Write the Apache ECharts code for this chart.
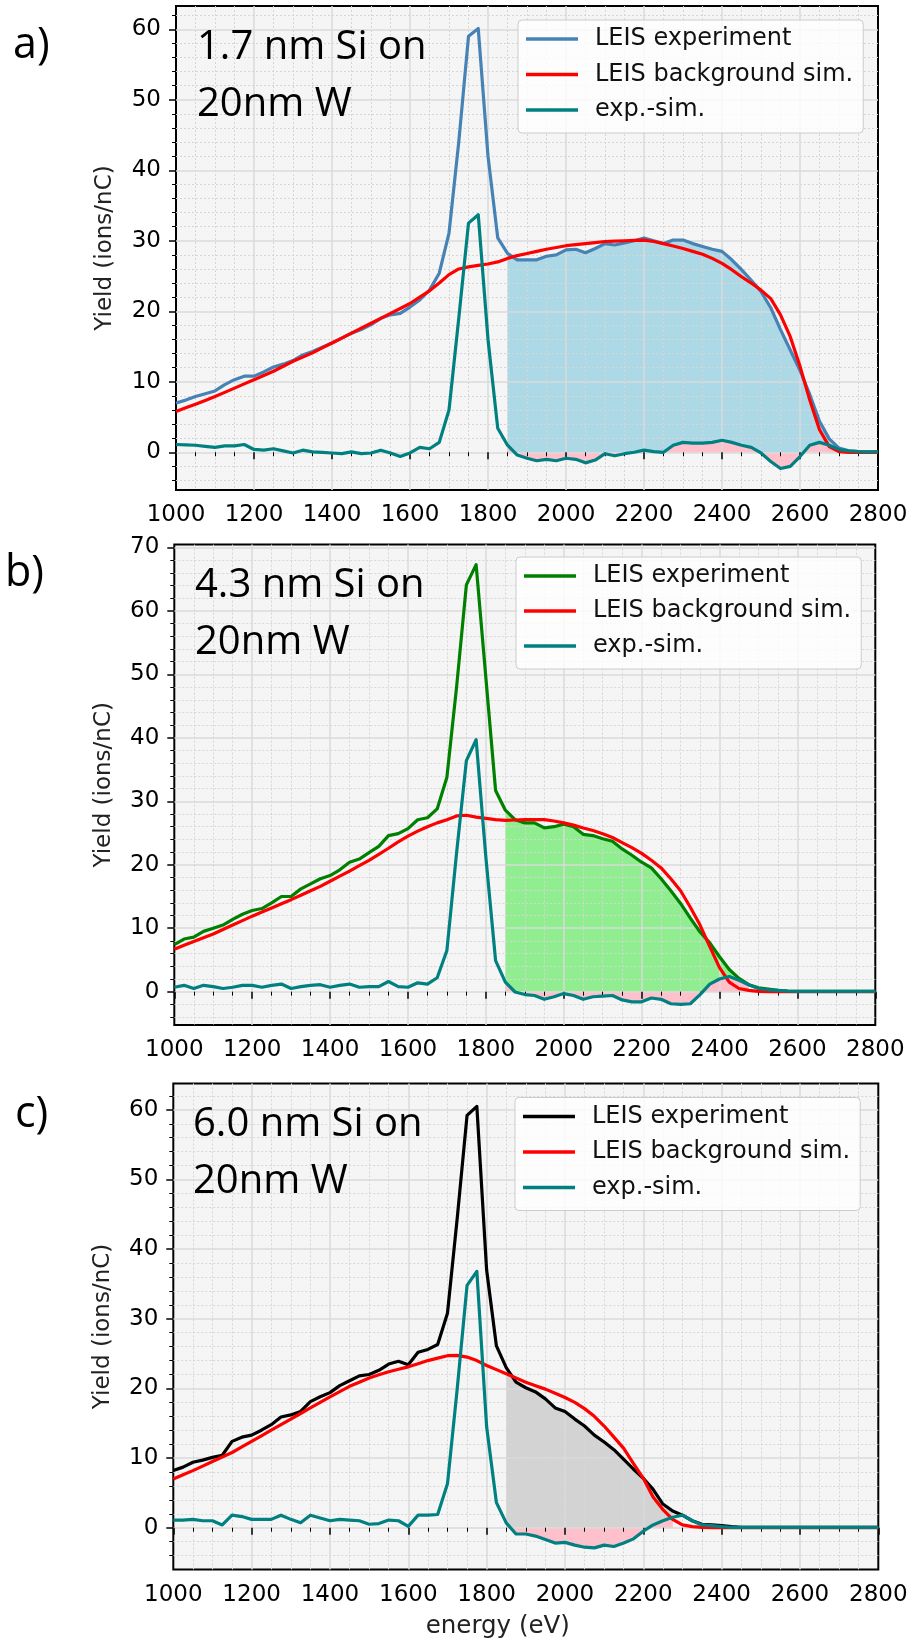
<!DOCTYPE html>
<html>
<head>
<meta charset="utf-8">
<title>LEIS spectra: Si on W</title>
<script src="https://cdn.jsdelivr.net/npm/echarts@6/dist/echarts.min.js"></script>
<style>
  html, body { margin: 0; padding: 0; background: #ffffff; }
  #wrap { position: relative; width: 912px; height: 1643px; }
  .panel { position: absolute; left: 0; width: 912px; }
</style>
</head>
<body>
<div id="wrap">
  <div id="pa" class="panel" style="top:0px;height:530px"></div>
  <div id="pb" class="panel" style="top:530px;height:530px"></div>
  <div id="pc" class="panel" style="top:1060px;height:583px"></div>
</div>
<script>
// Energy grid of the measured spectra (eV)
const energy = [
  1000, 1025, 1050, 1075, 1100, 1125, 1150, 1175,
  1200, 1225, 1250, 1275, 1300, 1325, 1350, 1375,
  1400, 1425, 1450, 1475, 1500, 1525, 1550, 1575,
  1600, 1625, 1650, 1675, 1700, 1725, 1750, 1775,
  1800, 1825, 1850, 1875, 1900, 1925, 1950, 1975,
  2000, 2025, 2050, 2075, 2100, 2125, 2150, 2175,
  2200, 2225, 2250, 2275, 2300, 2325, 2350, 2375,
  2400, 2425, 2450, 2475, 2500, 2525, 2550, 2575,
  2600, 2625, 2650, 2675, 2700, 2725, 2750, 2775,
  2800
];

// a) 1.7 nm Si on 20 nm W
const expA = [
  7.0, 7.4, 7.9, 8.3, 8.7, 9.6, 10.3, 10.8,
  10.8, 11.4, 12.1, 12.5, 13.0, 13.8, 14.3, 14.9,
  15.5, 16.2, 16.9, 17.4, 18.1, 19.0, 19.5, 19.7,
  20.6, 21.6, 23.0, 25.4, 31.1, 44.0, 59.0, 60.1,
  42.0, 30.4, 28.2, 27.3, 27.3, 27.3, 27.8, 28.0,
  28.7, 28.8, 28.3, 28.9, 29.6, 29.4, 29.7, 30.0,
  30.4, 30.0, 29.6, 30.1, 30.1, 29.6, 29.2, 28.8,
  28.5, 27.3, 25.9, 24.4, 22.8, 20.5, 17.4, 14.5,
  11.6, 8.2, 4.4, 1.9, 0.6, 0.2, 0.1, 0.05,
  0.05
];
const simA = [
  5.8, 6.3, 6.8, 7.35, 7.9, 8.5, 9.1, 9.7,
  10.3, 10.9, 11.5, 12.2, 12.9, 13.5, 14.1, 14.8,
  15.5, 16.2, 16.9, 17.6, 18.3, 19.0, 19.7, 20.4,
  21.1, 22.0, 22.9, 24.0, 25.2, 26.0, 26.3, 26.5,
  26.7, 27.0, 27.5, 27.9, 28.2, 28.5, 28.8, 29.05,
  29.3, 29.45, 29.6, 29.75, 29.9, 29.95, 30.0, 30.05,
  30.1, 29.9, 29.6, 29.25, 28.9, 28.5, 28.1, 27.5,
  26.8, 25.9, 24.9, 24.0, 23.0, 21.8, 19.5, 16.4,
  12.2, 7.4, 3.2, 0.8, 0.1, 0, 0, 0,
  0
];
const diffA = [
  1.1, 1.05, 1.0, 0.85, 0.7, 0.9, 0.9, 1.1,
  0.4, 0.3, 0.5, 0.2, -0.1, 0.3, 0.05, 0.0,
  -0.1, -0.2, 0.05, -0.2, -0.1, 0.3, -0.1, -0.6,
  -0.1, 0.7, 0.5, 1.4, 6.0, 19.0, 32.5, 33.7,
  16.0, 3.4, 1.0, -0.4, -0.85, -1.2, -1.0, -1.2,
  -0.85, -1.0, -1.5, -1.1, -0.2, -0.5, -0.2, 0.0,
  0.3, 0.1, 0.0, 1.0, 1.4, 1.3, 1.3, 1.4,
  1.7, 1.4, 1.0, 0.7, -0.1, -1.3, -2.3, -2.0,
  -0.6, 1.0, 1.4, 1.0, 0.4, 0.2, 0.1, 0.05,
  0.05
];

// b) 4.3 nm Si on 20 nm W
const expB = [
  7.4, 8.3, 8.6, 9.5, 10.0, 10.5, 11.4, 12.2,
  12.8, 13.1, 14.0, 15.0, 15.0, 16.2, 17.0, 17.8,
  18.3, 19.2, 20.4, 20.9, 21.9, 22.9, 24.6, 24.9,
  25.7, 27.1, 27.4, 28.8, 33.8, 48.1, 64.1, 67.3,
  49.5, 31.7, 28.6, 27.1, 26.6, 26.6, 25.8, 26.0,
  26.4, 26.0, 24.8, 24.6, 24.1, 23.7, 22.5, 21.5,
  20.4, 19.5, 17.8, 15.9, 13.9, 11.6, 9.4, 7.7,
  5.5, 3.5, 2.1, 1.1, 0.6, 0.4, 0.2, 0.1,
  0.05, 0.05, 0.05, 0.05, 0.05, 0.05, 0.05, 0.05,
  0.05
];
const simB = [
  6.7, 7.3, 7.9, 8.5, 9.1, 9.8, 10.5, 11.2,
  11.9, 12.55, 13.2, 13.85, 14.5, 15.2, 15.9, 16.6,
  17.4, 18.2, 19.0, 19.85, 20.7, 21.65, 22.6, 23.6,
  24.5, 25.3, 26.0, 26.6, 27.1, 27.7, 27.8, 27.5,
  27.3, 27.1, 27.0, 27.05, 27.1, 27.1, 27.1, 26.9,
  26.6, 26.25, 25.8, 25.4, 24.9, 24.3, 23.5, 22.7,
  21.8, 20.7, 19.5, 17.8, 15.9, 13.3, 10.5, 7.1,
  3.8, 1.5, 0.5, 0.2, 0.05, 0, 0, 0,
  0, 0, 0, 0, 0, 0, 0, 0,
  0
];
const diffB = [
  0.7, 1.0, 0.5, 1.0, 0.8, 0.5, 0.7, 1.0,
  1.0, 0.7, 1.0, 1.2, 0.5, 0.8, 1.0, 1.1,
  0.7, 1.0, 1.2, 0.7, 0.8, 0.8, 1.6, 0.8,
  0.7, 1.4, 1.2, 2.2, 6.5, 22.0, 36.4, 39.7,
  21.2, 4.9, 1.5, -0.05, -0.45, -0.6, -1.2, -0.8,
  -0.3, -0.6, -1.2, -0.8, -0.7, -0.6, -1.3, -1.6,
  -1.6, -1.0, -1.2, -1.9, -2.0, -1.9, -0.45, 1.2,
  2.0, 2.4, 1.8, 1.1, 0.5, 0.3, 0.2, 0.1,
  0.05, 0.05, 0.05, 0.05, 0.05, 0.05, 0.05, 0.05,
  0.05
];

// c) 6.0 nm Si on 20 nm W
const expC = [
  8.2, 8.7, 9.4, 9.7, 10.1, 10.4, 12.4, 13.0,
  13.3, 14.0, 14.8, 15.9, 16.2, 16.7, 18.1, 18.8,
  19.4, 20.4, 21.1, 21.8, 22.0, 22.6, 23.5, 23.9,
  23.4, 25.2, 25.6, 26.3, 30.8, 44.5, 59.2, 60.5,
  37.0, 26.1, 23.0, 20.9, 20.1, 19.5, 18.5, 17.2,
  16.7, 15.6, 14.6, 13.3, 12.3, 11.2, 9.8, 8.4,
  7.1, 5.5, 3.4, 2.4, 1.8, 1.0, 0.5, 0.4,
  0.3, 0.15, 0.05, 0.05, 0.05, 0.05, 0.05, 0.05,
  0.05, 0.05, 0.05, 0.05, 0.05, 0.05, 0.05, 0.05,
  0.05
];
const simC = [
  7.0, 7.6, 8.2, 8.85, 9.5, 10.15, 10.8, 11.6,
  12.4, 13.2, 14.0, 14.8, 15.6, 16.4, 17.2, 18.0,
  18.8, 19.55, 20.3, 20.9, 21.5, 21.95, 22.4, 22.75,
  23.1, 23.55, 24.0, 24.35, 24.7, 24.75, 24.5, 24.0,
  23.3, 22.7, 22.1, 21.5, 20.9, 20.4, 19.9, 19.3,
  18.7, 18.0, 17.1, 16.0, 14.6, 13.0, 11.4, 9.2,
  7.1, 4.4, 2.6, 1.2, 0.4, 0.15, 0.05, 0,
  0, 0, 0, 0, 0, 0, 0, 0,
  0, 0, 0, 0, 0, 0, 0, 0,
  0
];
const diffC = [
  1.1, 1.1, 1.2, 1.0, 1.0, 0.4, 1.8, 1.6,
  1.2, 1.2, 1.2, 1.8, 1.2, 0.7, 1.8, 1.4,
  1.0, 1.2, 1.1, 1.0, 0.5, 0.6, 1.1, 1.0,
  0.2, 1.8, 1.8, 1.9, 6.3, 20.0, 34.8, 36.8,
  14.5, 3.6, 0.7, -0.9, -0.9, -1.2, -1.7, -2.2,
  -2.1, -2.5, -2.8, -2.9, -2.5, -2.7, -2.2, -1.6,
  -0.5, 0.4, 1.0, 1.5, 1.8, 1.0, 0.4, 0.3,
  0.15, 0.05, 0.05, 0.05, 0.05, 0.05, 0.05, 0.05,
  0.05, 0.05, 0.05, 0.05, 0.05, 0.05, 0.05, 0.05,
  0.05
];

// Integration windows (eV) of the shaded areas
const fillRangeA = [1850, 2700];
const fillRangeB = [1850, 2475];
const fillRangeC = [1850, 2275];

// Y tick values
const yMajorA = [0, 10, 20, 30, 40, 50, 60];
const yMinorA = [-4, -2, 2, 4, 6, 8, 12, 14, 16, 18, 22, 24, 26, 28, 32, 34, 36, 38, 42, 44, 46, 48, 52, 54, 56, 58, 62];
const yMajorB = [0, 10, 20, 30, 40, 50, 60, 70];
const yMinorB = [-4, -2, 2, 4, 6, 8, 12, 14, 16, 18, 22, 24, 26, 28, 32, 34, 36, 38, 42, 44, 46, 48, 52, 54, 56, 58, 62, 64, 66, 68];
const yMajorC = [0, 10, 20, 30, 40, 50, 60];
const yMinorC = [-4, -2, 2, 4, 6, 8, 12, 14, 16, 18, 22, 24, 26, 28, 32, 34, 36, 38, 42, 44, 46, 48, 52, 54, 56, 58, 62];

const legendNames = ['LEIS experiment', 'LEIS background sim.', 'exp.-sim.'];

function pairs(values, lo, hi) {
  return energy
    .map((e, i) => [e, values[i]])
    .filter(p => p[0] >= lo && p[0] <= hi);
}

const TICK_FONT = { fontFamily: 'DejaVu Sans', fontSize: 23, color: '#000000' };
const plainNumber = v => String(v);

function buildPanel(el, cfg) {
  const chart = echarts.init(el, null, { renderer: 'canvas' });

  const lineSeries = (name, vals, color) => ({
    type: 'line', name: name, data: pairs(vals, 1000, 2800),
    color: color, symbol: 'none', showSymbol: false, silent: true, z: 4,
    lineStyle: { color: color, width: 3.2, join: 'round', cap: 'butt' }
  });
  const areaSeries = (vals, range, color, z) => ({
    type: 'line', data: pairs(vals, range[0], range[1]),
    symbol: 'none', showSymbol: false, silent: true, z: z,
    lineStyle: { width: 0, opacity: 0 },
    areaStyle: { color: color, opacity: 1, origin: 'auto' }
  });

  const g = cfg.grid;
  chart.setOption({
    animation: false,
    grid: [{
      left: g.left, top: g.top, width: g.width, height: g.height,
      show: true, backgroundColor: '#f5f5f5', borderColor: '#000000', borderWidth: 2,
      containLabel: false, outerBoundsMode: 'none', z: 0
    }],
    xAxis: [{
      type: 'value', gridIndex: 0, min: 1000, max: 2800, interval: 200, z: 3,
      axisLine: { show: false },
      axisTick: { show: true, length: 7, lineStyle: { color: '#000000', width: 1.5 } },
      minorTick: { show: true, splitNumber: 4, length: 4, lineStyle: { color: '#000000', width: 1 } },
      axisLabel: Object.assign({ margin: 14, showMinLabel: true, showMaxLabel: true, formatter: plainNumber }, TICK_FONT),
      splitLine: { show: true, showMinLine: false, showMaxLine: false, lineStyle: { color: '#dadada', width: 1.5 } },
      minorSplitLine: { show: true, lineStyle: { color: '#d6d6d6', width: 1, type: [2, 2] } },
      name: cfg.xName || '', nameLocation: 'middle', nameGap: 45,
      nameTextStyle: { fontFamily: 'DejaVu Sans', fontSize: 24.5, color: '#222222', padding: [0, 56, 0, 0] }
    }],
    yAxis: [{
      type: 'value', gridIndex: 0, min: cfg.yMin, max: cfg.yMax, position: 'left', offset: 0, z: 3,
      axisLine: { show: false },
      axisTick: { show: true, customValues: cfg.yMajor, length: 7, lineStyle: { color: '#000000', width: 1.5 } },
      axisLabel: Object.assign({ customValues: cfg.yMajor, margin: 15, formatter: plainNumber }, TICK_FONT),
      splitLine: { show: true, lineStyle: { color: '#dadada', width: 1.5 } },
      name: 'Yield (ions/nC)', nameLocation: 'middle', nameGap: 59,
      nameTextStyle: { fontFamily: 'DejaVu Sans', fontSize: 23, color: '#222222' }
    }, {
      type: 'value', gridIndex: 0, min: cfg.yMin, max: cfg.yMax, position: 'left', offset: 0, z: 3,
      axisLine: { show: false },
      axisTick: { show: true, customValues: cfg.yMinor, length: 4, lineStyle: { color: '#000000', width: 1 } },
      axisLabel: { show: false, customValues: cfg.yMinor },
      splitLine: { show: true, lineStyle: { color: '#d6d6d6', width: 1, type: [2, 2] } }
    }],
    legend: {
      orient: 'vertical', left: cfg.legend.left, top: cfg.legend.top, z: 10,
      data: legendNames, selectedMode: false,
      icon: 'rect', itemWidth: 52, itemHeight: 3.5, itemGap: cfg.legend.gap,
      padding: cfg.legend.padding,
      backgroundColor: 'rgba(255,255,255,0.8)', borderColor: '#cccccc', borderWidth: 1, borderRadius: 4,
      textStyle: { fontFamily: 'DejaVu Sans', fontSize: 24, color: '#111111', padding: [0, 0, 0, 12] }
    },
    graphic: cfg.texts.map(t => ({
      type: 'text', x: t.x, y: t.y, z: 20, silent: true,
      style: {
        text: t.text, fill: '#000000',
        font: t.size + 'px "Open Sans"',
        textAlign: 'left', textVerticalAlign: 'middle', align: 'left', verticalAlign: 'middle'
      }
    })),
    series: [
      areaSeries(cfg.exp, cfg.fillRange, cfg.fillColor, 1),
      areaSeries(cfg.diff, cfg.fillRange, '#ffc0cb', 2),
      lineSeries(legendNames[0], cfg.exp, cfg.expColor),
      lineSeries(legendNames[1], cfg.sim, '#ff0000'),
      lineSeries(legendNames[2], cfg.diff, '#008080')
    ]
  });
  return chart;
}

buildPanel(document.getElementById('pa'), {
  grid: { left: 176, top: 6, width: 702, height: 484 },
  yMin: -5.35, yMax: 63.3, yMajor: yMajorA, yMinor: yMinorA,
  exp: expA, sim: simA, diff: diffA, expColor: '#4682b4',
  fillRange: fillRangeA, fillColor: '#add8e6',
  legend: { left: 518, top: 20, gap: 11.5, padding: [7, 10, 11, 8] },
  texts: [
    { text: 'a)', x: 13, y: 46, size: 43 },
    { text: '1.7 nm Si on', x: 197, y: 48, size: 40 },
    { text: '20nm W', x: 197, y: 105, size: 40 }
  ]
});

buildPanel(document.getElementById('pb'), {
  grid: { left: 174.3, top: 14.6, width: 701, height: 480.4 },
  yMin: -5.25, yMax: 70.45, yMajor: yMajorB, yMinor: yMinorB,
  exp: expB, sim: simB, diff: diffB, expColor: '#008000',
  fillRange: fillRangeB, fillColor: '#90ee90',
  legend: { left: 516, top: 27, gap: 11, padding: [7, 10, 11, 8] },
  texts: [
    { text: 'b)', x: 5, y: 44, size: 43 },
    { text: '4.3 nm Si on', x: 195, y: 56, size: 40 },
    { text: '20nm W', x: 195, y: 113, size: 40 }
  ]
});

buildPanel(document.getElementById('pc'), {
  grid: { left: 173.3, top: 23.4, width: 705, height: 486.1 },
  yMin: -6.0, yMax: 63.8, yMajor: yMajorC, yMinor: yMinorC,
  exp: expC, sim: simC, diff: diffC, expColor: '#000000',
  fillRange: fillRangeC, fillColor: '#d3d3d3',
  xName: 'energy (eV)',
  legend: { left: 515, top: 37.5, gap: 11.5, padding: [7, 10, 11, 8] },
  texts: [
    { text: 'c)', x: 15, y: 55, size: 43 },
    { text: '6.0 nm Si on', x: 193, y: 65, size: 40 },
    { text: '20nm W', x: 193, y: 122, size: 40 }
  ]
});
</script>
</body>
</html>
